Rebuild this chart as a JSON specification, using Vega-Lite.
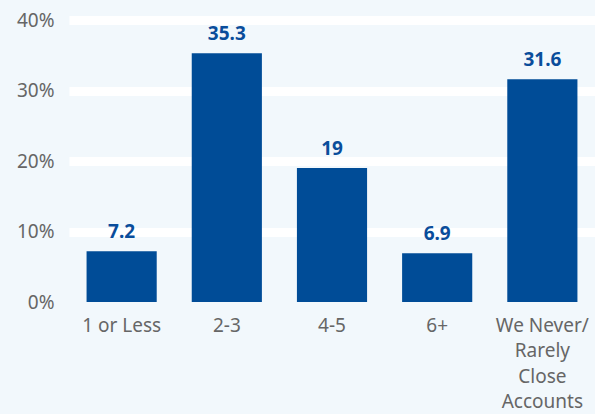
{
  "$schema": "https://vega.github.io/schema/vega-lite/v6.json",
  "width": 526,
  "height": 282,
  "autosize": {"type": "none"},
  "padding": {"left": 69, "top": 20, "right": 0, "bottom": 112},
  "background": "#f2f8fc",
  "config": {
    "view": {"stroke": null},
    "font": "Noto Sans"
  },
  "data": {
    "values": [
      {"category": "1 or Less", "value": 7.2},
      {"category": "2-3", "value": 35.3},
      {"category": "4-5", "value": 19},
      {"category": "6+", "value": 6.9},
      {"category": "We Never/ Rarely Close Accounts", "value": 31.6}
    ]
  },
  "encoding": {
    "x": {
      "field": "category",
      "type": "nominal",
      "sort": null,
      "scale": {"paddingInner": 0.333, "paddingOuter": 0.167},
      "axis": {
        "title": null,
        "labelAngle": 0,
        "ticks": false,
        "domain": false,
        "labelPadding": 14,
        "labelFontSize": 19,
        "labelColor": "#666666",
        "labelLineHeight": 25.5,
        "labelFont": "Noto Sans",
        "labelExpr": "datum.value == 'We Never/ Rarely Close Accounts' ? ['We Never/', 'Rarely', 'Close', 'Accounts'] : datum.value"
      }
    },
    "y": {
      "field": "value",
      "type": "quantitative",
      "scale": {"domain": [0, 40], "nice": false},
      "axis": {
        "title": null,
        "values": [0, 10, 20, 30, 40],
        "ticks": false,
        "domain": false,
        "labelPadding": 15,
        "labelFontSize": 19,
        "labelColor": "#666666",
        "labelFont": "Noto Sans",
        "labelExpr": "datum.value + '%'",
        "gridColor": "white",
        "gridWidth": 9,
        "gridOpacity": {"condition": {"test": "datum.value == 0", "value": 0}, "value": 1}
      }
    }
  },
  "layer": [
    {"mark": {"type": "bar", "color": "#004c97"}},
    {
      "mark": {"type": "text", "dy": -19, "fontSize": 19, "fontWeight": "bold", "color": "#0a4d9b", "font": "Noto Sans"},
      "encoding": {"text": {"field": "value", "type": "quantitative", "format": ".1~f"}}
    }
  ]
}
